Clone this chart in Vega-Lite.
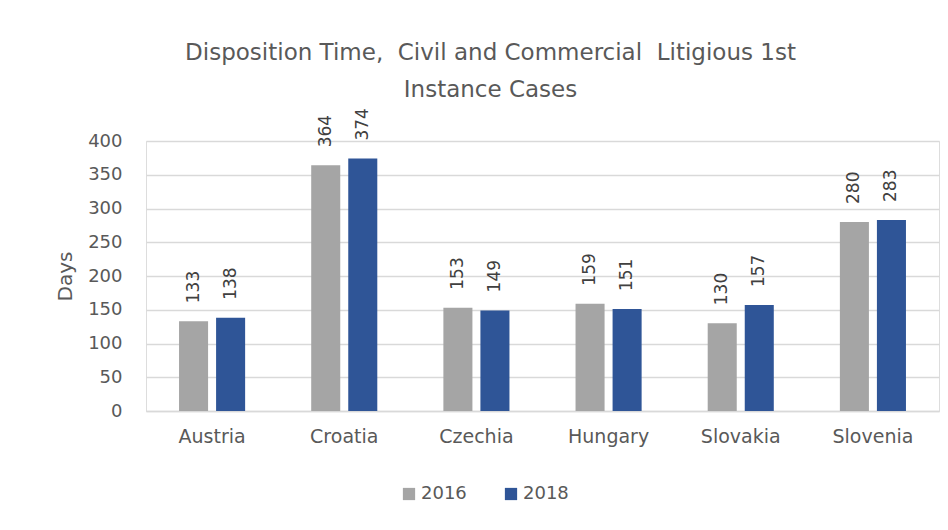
{
  "$schema": "https://vega.github.io/schema/vega-lite/v6.json",
  "width": 793,
  "height": 270,
  "autosize": {"type": "none"},
  "padding": {"left": 146, "top": 141, "right": 9, "bottom": 119},
  "background": "white",
  "title": {
    "text": ["Disposition Time,\u00a0 Civil and Commercial\u00a0 Litigious 1st", "Instance Cases"],
    "anchor": "middle",
    "dx": -52,
    "font": "DejaVu Sans",
    "fontSize": 23,
    "fontWeight": "normal",
    "color": "#595959",
    "lineHeight": 37,
    "offset": 6
  },
  "data": {
    "values": [
      {"country": "Austria", "year": "2016", "days": 133},
      {"country": "Austria", "year": "2018", "days": 138},
      {"country": "Croatia", "year": "2016", "days": 364},
      {"country": "Croatia", "year": "2018", "days": 374},
      {"country": "Czechia", "year": "2016", "days": 153},
      {"country": "Czechia", "year": "2018", "days": 149},
      {"country": "Hungary", "year": "2016", "days": 159},
      {"country": "Hungary", "year": "2018", "days": 151},
      {"country": "Slovakia", "year": "2016", "days": 130},
      {"country": "Slovakia", "year": "2018", "days": 157},
      {"country": "Slovenia", "year": "2016", "days": 280},
      {"country": "Slovenia", "year": "2018", "days": 283}
    ]
  },
  "encoding": {
    "x": {
      "field": "country",
      "type": "nominal",
      "sort": null,
      "scale": {"paddingInner": 0.5, "paddingOuter": 0.25},
      "axis": {
        "title": null,
        "labelAngle": 0,
        "labelFont": "DejaVu Sans",
        "labelFontSize": 19,
        "labelColor": "#595959",
        "labelPadding": 16,
        "ticks": false,
        "domainColor": "#d9d9d9",
        "domainWidth": 1.5
      }
    },
    "xOffset": {
      "field": "year",
      "type": "nominal",
      "scale": {"paddingInner": 0.216, "paddingOuter": 0}
    },
    "y": {
      "field": "days",
      "type": "quantitative",
      "scale": {"domain": [0, 400], "nice": false},
      "axis": {
        "title": "Days",
        "titleFont": "DejaVu Sans",
        "titleFontSize": 20,
        "titleFontWeight": "normal",
        "titleColor": "#595959",
        "titlePadding": 12,
        "values": [0, 50, 100, 150, 200, 250, 300, 350, 400],
        "labelFont": "DejaVu Sans",
        "labelFontSize": 18,
        "labelColor": "#595959",
        "labelPadding": 24,
        "ticks": false,
        "domain": false,
        "gridColor": "#d9d9d9",
        "gridWidth": 1.5
      }
    }
  },
  "layer": [
    {
      "mark": {"type": "bar"},
      "encoding": {
        "color": {
          "field": "year",
          "type": "nominal",
          "scale": {"domain": ["2016", "2018"], "range": ["#a5a5a5", "#2f5597"]},
          "legend": {
            "orient": "none",
            "direction": "horizontal",
            "legendX": 254,
            "legendY": 344,
            "title": null,
            "symbolType": "square",
            "symbolSize": 150,
            "symbolStrokeWidth": 0,
            "labelFont": "DejaVu Sans",
            "labelFontSize": 18,
            "labelColor": "#595959",
            "columnPadding": 35,
            "labelOffset": 3
          }
        }
      }
    },
    {
      "mark": {
        "type": "text",
        "angle": 270,
        "align": "left",
        "baseline": "middle",
        "dx": 18,
        "font": "DejaVu Sans",
        "fontSize": 17,
        "color": "#404040"
      },
      "encoding": {
        "text": {"field": "days", "type": "quantitative"}
      }
    }
  ]
}
